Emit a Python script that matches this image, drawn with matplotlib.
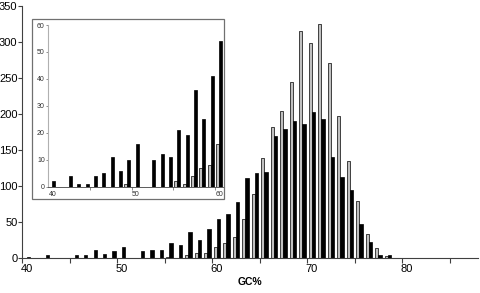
import numpy as np
import matplotlib
matplotlib.use("Agg")
import matplotlib.pyplot as plt
from matplotlib.patches import Rectangle

plt.rcParams['font.family'] = ['Liberation Sans', 'DejaVu Sans']

# GC% categories 40..87
gc = np.arange(40, 88)

# grey series (left bar of each pair)
grey = [0, 0, 0, 0, 0, 0, 0, 0, 0, 1,
        0, 0, 0, 0, 0, 2, 1, 4, 7, 8,
        16, 21, 30, 55, 90, 140, 182, 205, 245, 316,
        299, 326, 271, 197, 135, 80, 34, 14, 3, 1,
        0, 0, 0, 0, 0, 0, 0, 0]

# black series (right bar of each pair)
black = [2, 0, 4, 1, 1, 4, 5, 11, 6, 10,
         16, 0, 10, 12, 11, 21, 19, 36, 25, 41,
         54, 62, 78, 112, 118, 120, 170, 179, 191, 187,
         203, 194, 141, 113, 95, 48, 22, 4, 5, 1,
         0, 0, 1, 0, 0, 0, 0, 0]

main_labels = [40, 50, 60, 70, 80]
inset_labels = [40, 50, 60]

W, H = 480, 293
fig = plt.figure(figsize=(W / 100, H / 100), dpi=100)


def px_axes(l, t, r, b):
    return fig.add_axes([l / W, 1 - b / H, (r - l) / W, (b - t) / H])


grey_c = '#c0c0c0'

# ---- main chart
ax = px_axes(22.3, 6.3, 478, 258.3)
w = 0.34
ax.bar(gc - 0.17, grey, width=w, color=grey_c, edgecolor='black', linewidth=0.5)
ax.bar(gc + 0.17, black, width=w, color='black', edgecolor='black', linewidth=0.5)
ax.set_xlim(39.5, 87.5)
ax.set_ylim(0, 350)
ax.spines['top'].set_visible(False)
ax.spines['right'].set_visible(False)
for s in ('left', 'bottom'):
    ax.spines[s].set_color('#404040')
    ax.spines[s].set_linewidth(0.8)
ax.set_yticks(np.arange(0, 351, 50))
ax.set_xticks(main_labels)
ax.set_xticks(np.arange(39.5, 88, 5), minor=True)
ax.tick_params(axis='x', which='major', length=0, pad=4, labelsize=8)
ax.tick_params(axis='x', which='minor', length=3.5, color='#404040', width=0.8)
ax.tick_params(axis='y', length=3, color='#404040', width=0.8, pad=0.5, labelsize=8)
ax.set_xlabel('GC%', fontsize=7.5, fontweight='bold', labelpad=2)

# ---- inset frame
fig.add_artist(Rectangle((31.7 / W, 1 - 199.3 / H), (223.5 - 31.7) / W, (199.3 - 19.3) / H,
                         transform=fig.transFigure, fill=True, facecolor='white',
                         edgecolor='#707070', linewidth=0.9, zorder=5))

# ---- inset chart (40..60)
n = 21
ai = px_axes(48.3, 25, 223.3, 186.7)
ai.set_zorder(6)
ai.bar(gc[:n] - 0.18, grey[:n], width=0.36, color=grey_c, edgecolor='black', linewidth=0.5)
ai.bar(gc[:n] + 0.18, black[:n], width=0.36, color='black', edgecolor='black', linewidth=0.5)
ai.set_xlim(39.5, 60.5)
ai.set_ylim(0, 60)
ai.patch.set_alpha(0)
ai.spines['top'].set_visible(False)
ai.spines['right'].set_visible(False)
ai.spines['left'].set_color('#b0b0b0')
ai.spines['bottom'].set_color('#404040')
ai.spines['left'].set_linewidth(0.8)
ai.spines['bottom'].set_linewidth(0.6)
ai.set_yticks(np.arange(0, 61, 10))
ai.set_xticks(inset_labels)
ai.set_xticks(np.arange(44.5, 61, 5), minor=True)
ai.tick_params(axis='x', which='major', length=0, pad=3, labelsize=5, labelcolor='#303030')
ai.tick_params(axis='x', which='minor', length=2, color='#606060', width=0.5)
ai.tick_params(axis='y', length=1.5, color='#606060', width=0.5, pad=1,
               labelsize=5, labelcolor='#303030')

fig.savefig('out.png', dpi=100)
